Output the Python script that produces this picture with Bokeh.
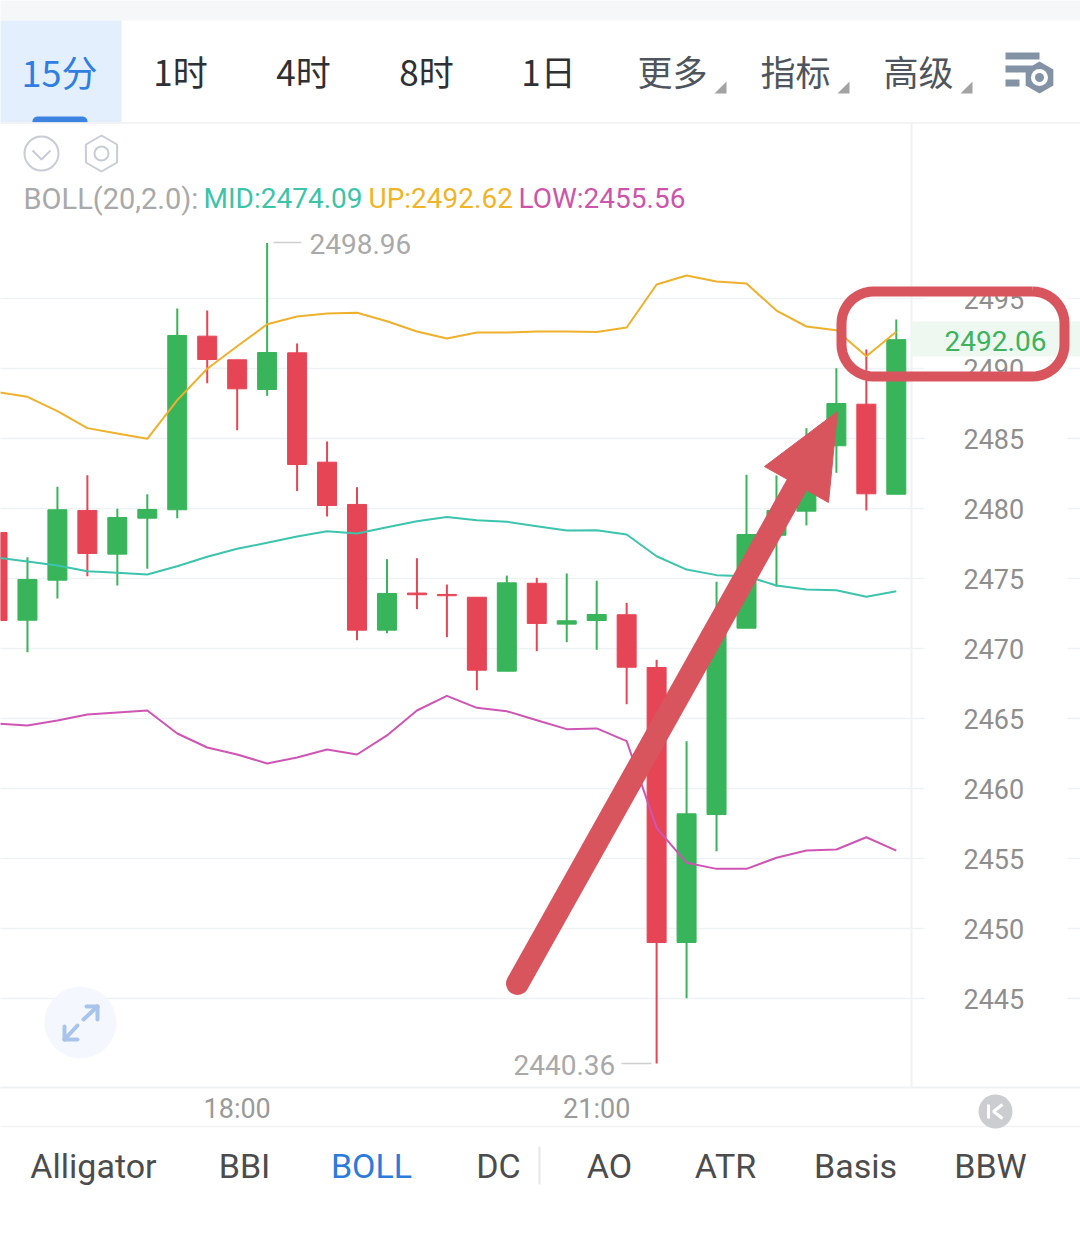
import math
from bokeh.embed import file_html
from bokeh.resources import INLINE
from bokeh.plotting import figure
from bokeh.models import Range1d, LinearAxis, FixedTicker, ColumnDataSource
from bokeh.core.properties import value

# ---- data ----
opens = [2478.29, 2472.02, 2474.88, 2479.86, 2476.74, 2479.31, 2479.91, 2492.31, 2490.62, 2488.50, 2491.12,
         2483.31, 2480.29, 2471.31, 2473.96, 2473.86, 2473.66, 2468.38, 2474.66, 2471.74, 2472.00, 2472.41,
         2468.64, 2449.00, 2458.14, 2471.45, 2478.09, 2479.81, 2484.48, 2487.45, 2481.02]
highs = [2479.21, 2476.52, 2481.55, 2482.38, 2479.98, 2481.02, 2494.29, 2494.14, 2490.62, 2498.96, 2491.79,
         2484.79, 2481.52, 2476.38, 2476.45, 2474.57, 2473.66, 2475.21, 2475.05, 2475.36, 2474.84, 2473.26,
         2469.19, 2463.38, 2474.76, 2482.41, 2482.36, 2485.74, 2490.02, 2491.36, 2493.50]
lows = [2470.64, 2469.74, 2473.57, 2475.16, 2474.50, 2475.69, 2479.31, 2488.95, 2485.59, 2488.05, 2481.24,
        2479.43, 2470.59, 2471.09, 2472.81, 2470.81, 2467.02, 2468.38, 2469.81, 2470.45, 2469.91, 2466.02,
        2440.36, 2445.02, 2455.52, 2471.45, 2474.41, 2478.79, 2482.55, 2479.86, 2481.02]
closes = [2472.00, 2474.93, 2479.91, 2476.79, 2479.36, 2479.93, 2492.36, 2490.64, 2488.55, 2491.14, 2483.14,
          2480.21, 2471.31, 2473.93, 2473.84, 2473.77, 2468.45, 2474.69, 2471.79, 2471.98, 2472.43, 2468.66,
          2449.00, 2458.19, 2471.50, 2478.14, 2479.86, 2484.43, 2487.50, 2481.05, 2492.06]
boll_up = [2488.32, 2487.98, 2486.95, 2485.74, 2485.36, 2484.98, 2487.74, 2489.98, 2491.59, 2493.16, 2493.71,
           2493.93, 2493.98, 2493.38, 2492.64, 2492.14, 2492.57, 2492.57, 2492.64, 2492.64, 2492.61, 2492.93,
           2496.00, 2496.64, 2496.21, 2496.07, 2494.14, 2493.00, 2492.74, 2490.88, 2492.62]
boll_mid = [2476.48, 2476.21, 2475.93, 2475.52, 2475.41, 2475.29, 2475.88, 2476.55, 2477.12, 2477.55, 2478.00,
            2478.38, 2478.21, 2478.66, 2479.09, 2479.39, 2479.16, 2479.05, 2478.74, 2478.43, 2478.45, 2478.14,
            2476.59, 2475.64, 2475.24, 2475.16, 2474.50, 2474.21, 2474.16, 2473.69, 2474.09]
boll_low = [2464.64, 2464.50, 2464.86, 2465.29, 2465.43, 2465.57, 2463.93, 2462.93, 2462.43, 2461.79, 2462.21,
            2462.79, 2462.43, 2463.79, 2465.57, 2466.62, 2465.76, 2465.52, 2464.88, 2464.24, 2464.29, 2463.38,
            2457.19, 2454.69, 2454.26, 2454.26, 2455.05, 2455.57, 2455.64, 2456.52, 2455.56]
price_ticks = [2445, 2450, 2455, 2460, 2465, 2470, 2475, 2480, 2485, 2490, 2495]
time_ticks = {8: "18:00", 20: "21:00"}
tabs = ["1时", "4时", "8时", "1日"]
menus = ["更多", "指标", "高级"]
indicators = ["Alligator", "BBI", "BOLL", "DC", "AO", "ATR", "Basis", "BBW"]

# ---- scales: reference pixel <-> data ----
SLOT = 29.96
X0 = -2.0
PX_PER_UNIT = 14.0
def ix(px):
    return (px - X0) / SLOT
def price(py):
    return 2445 + (999 - py) / PX_PER_UNIT

W, H = 1080, 1234
p = figure(width=W, height=H, output_backend="svg", toolbar_location=None,
           x_range=Range1d(ix(1), ix(1081)), y_range=Range1d(price(1235), price(1)),
           x_axis_location=None, y_axis_location=None, min_border=0,
           min_border_left=0, min_border_right=0, min_border_top=0, min_border_bottom=0)
p.grid.visible = False
p.outline_line_color = None
p.background_fill_color = "white"
p.extra_x_ranges["px"] = Range1d(1, 1081)
p.extra_y_ranges["px"] = Range1d(1235, 1)

PX = dict(x_range_name="px", y_range_name="px")
FONT = value("Roboto")
CJK = value("Noto Sans CJK SC")

def box(x0, x1, y0, y1, color, level="underlay"):
    p.quad(left=x0, right=x1, top=y0, bottom=y1, fill_color=color, line_color=None, level=level, **PX)
def seg(x0, y0, x1, y1, color, w=2, level="underlay", cap="butt", alpha=1.0):
    p.segment(x0=[x0], y0=[y0], x1=[x1], y1=[y1], line_color=color, line_width=w, level=level,
              line_cap=cap, line_alpha=alpha, **PX)
def txt(x, y, s, color, size, font=FONT, align="center", level="glyph"):
    p.text(x=[x], y=[y], text=[s], text_color=color, text_font=font, text_font_size=f"{size}px",
           text_align=align, text_baseline="middle", level=level, **PX)
def hex_pts(cx, cy, r):
    a = [math.radians(30 + 60 * k) for k in range(6)]
    return [cx + r * math.cos(t) for t in a], [cy + r * math.sin(t) for t in a]
def rounded(x0, y0, x1, y1, r):
    xs, ys = [], []
    for cx, cy, start in [(x1 - r, y0 + r, -90), (x1 - r, y1 - r, 0), (x0 + r, y1 - r, 90), (x0 + r, y0 + r, 180)]:
        for k in range(13):
            t = math.radians(start + 7.5 * k)
            xs.append(cx + r * math.cos(t))
            ys.append(cy + r * math.sin(t))
    xs.append(xs[0]); ys.append(ys[0])
    return xs, ys

# ---- chrome: top bar ----
box(0, 1081, 0, 21, "#f6f7f9")
box(0, 122, 21, 123, "#e3effc")
p.patch(*rounded(33, 117, 88, 135, 5), fill_color="#3d84e0", line_color=None, level="underlay", **PX)
box(0, 1081, 123, 150, "white")
seg(0, 123.5, 1081, 123.5, "#f0f1f3", 1.5)
txt(60, 71, "15分", "#2f7ee0", 36, CJK)
for cx, s in zip([181, 304, 427, 549], tabs):
    txt(cx, 71, s, "#2e3033", 35, CJK)
for cx, s in zip([673, 796, 919], menus):
    txt(cx, 71, s, "#4f555c", 35, CJK)
for tx in [727, 850, 973]:
    p.patch([tx - 12, tx, tx], [94, 82, 94], fill_color="#a3a3a3", line_color=None, **PX)
for x1, y0 in [(1040, 53), (1033, 66), (1020, 80)]:
    box(1006, x1, y0, y0 + 7, "#8492a6", level="glyph")
p.patch(*hex_pts(1040, 78, 16), fill_color="#8492a6", line_color=None, **PX)
p.scatter([1040], [78], size=17, fill_color="white", line_color=None, **PX)
p.scatter([1040], [78], size=9, fill_color="#8492a6", line_color=None, **PX)

# ---- chrome: info row ----
p.scatter([42], [154], size=34, fill_color=None, line_color="#c8ccd6", line_width=2, **PX)
p.line([33, 42, 51], [151, 160, 151], line_color="#c8ccd6", line_width=2, **PX)
hx, hy = hex_pts(102, 154, 18)
p.patch(hx + hx[:1], hy + hy[:1], fill_color=None, line_color="#c8ccd6", line_width=2, **PX)
p.scatter([102], [154], size=14, fill_color=None, line_color="#c8ccd6", line_width=2, **PX)
txt(24, 199, "BOLL(20,2.0):", "#a9a9a9", 29, align="left")
txt(204, 199, "MID:2474.09", "#3cc4a8", 28, align="left")
txt(369, 199, "UP:2492.62", "#f0b429", 28, align="left")
txt(519, 199, "LOW:2455.56", "#cc55aa", 28, align="left")

# ---- grid and frame ----
p.segment(x0=0, x1=925, y0=price_ticks, y1=price_ticks, line_color="#eef2f4", line_width=1.5, level="underlay", x_range_name="px")
p.segment(x0=1068, x1=1081, y0=price_ticks, y1=price_ticks, line_color="#eef2f4", line_width=1.5, level="underlay", x_range_name="px")
seg(912, 124, 912, 1088, "#f0f1f3", 2)
seg(0, 1088, 1081, 1088, "#f0f1f3", 2)
seg(0, 1127, 1081, 1127, "#f2f3f5", 1.5)

# ---- last-price band ----
box(912, 1081, 322, 357, "#eef8f1")

# ---- candles ----
idx = list(range(len(opens)))
def candles(keep, color):
    src = ColumnDataSource(dict(
        x=[i for i in idx if keep(i)],
        o=[opens[i] for i in idx if keep(i)],
        h=[highs[i] for i in idx if keep(i)],
        l=[lows[i] for i in idx if keep(i)],
        c=[closes[i] for i in idx if keep(i)]))
    p.segment(x0="x", x1="x", y0="h", y1="l", source=src, line_color=color, line_width=2)
    p.vbar(x="x", width=19 / SLOT, top="o", bottom="c", source=src, fill_color=color, line_color=color, line_width=1)
candles(lambda i: closes[i] >= opens[i], "#38b45a")
candles(lambda i: closes[i] < opens[i], "#e64555")

# ---- Bollinger lines ----
p.line(idx, boll_up, line_color="#efb02c", line_width=2)
p.line(idx, boll_mid, line_color="#3cc4ac", line_width=2)
p.line(idx, boll_low, line_color="#cf55b4", line_width=2)

# ---- extreme labels ----
seg(274, 243, 302, 243, "#cfcfcf", 1.5, level="glyph")
txt(310, 244, f"{max(highs):.2f}", "#a9a9a9", 28, align="left")
seg(622, 1064, 652, 1064, "#cfcfcf", 1.5, level="glyph")
txt(514, 1065, f"{min(lows):.2f}", "#a9a9a9", 28, align="left")

# ---- axes ----
yaxis = LinearAxis(fixed_location=ix(958), ticker=FixedTicker(ticks=price_ticks))
yaxis.axis_line_color = None
yaxis.major_tick_line_color = None
yaxis.minor_tick_line_color = None
yaxis.major_label_standoff = 0
yaxis.major_label_text_color = "#8e8e8e"
yaxis.major_label_text_font = "Roboto"
yaxis.major_label_text_font_size = "27px"
p.add_layout(yaxis, "right")

xaxis = LinearAxis(fixed_location=price(1085), ticker=FixedTicker(ticks=list(time_ticks)))
xaxis.major_label_overrides = dict(time_ticks)
xaxis.axis_line_color = None
xaxis.major_tick_line_color = None
xaxis.minor_tick_line_color = None
xaxis.major_label_standoff = 2
xaxis.major_label_text_color = "#9a9a9a"
xaxis.major_label_text_font = "Roboto"
xaxis.major_label_text_font_size = "27px"
p.add_layout(xaxis, "below")

txt(996, 341, f"{closes[-1]:.2f}", "#3cb35c", 28)

# ---- expand and jump buttons ----
p.scatter([81], [1023], size=72, fill_color="#f4f8fe", line_color=None, **PX)
for a in [((84, 1020), (98, 1007)), ((87, 1007), (98, 1007)), ((98, 1007), (98, 1020)),
          ((78, 1026), (65, 1040)), ((65, 1027), (65, 1040)), ((65, 1040), (78, 1040))]:
    seg(a[0][0], a[0][1], a[1][0], a[1][1], "#a8c4ec", 4, level="glyph", cap="round")
p.scatter([996], [1112], size=34, fill_color="#cccdd1", line_color=None, **PX)
seg(989, 1105, 989, 1119, "white", 3, level="glyph")
p.line([1003, 994, 1003], [1105, 1112, 1119], line_color="white", line_width=3, **PX)

# ---- indicator row ----
for cx, s in zip([94, 245, 372, 499, 610, 726, 856, 991], indicators):
    txt(cx, 1166, s, "#2b7bdc" if s == "BOLL" else "#4c4c4c", 34)
seg(540, 1147, 540, 1185, "#e6e6e6", 2)

# ---- hand-drawn annotation ----
ANN = "#d9555e"
p.line([518, 797], [984, 486], line_color=ANN, line_width=23, line_cap="round", level="overlay", **PX)
p.patch([838, 765, 829], [412, 467, 503], fill_color=ANN, line_color=ANN, line_width=1, level="overlay", **PX)
p.line(*rounded(842, 292, 1065, 377, 32), line_color=ANN, line_width=10, level="overlay", **PX)

open("out.html", "w").write(file_html(p, INLINE))
